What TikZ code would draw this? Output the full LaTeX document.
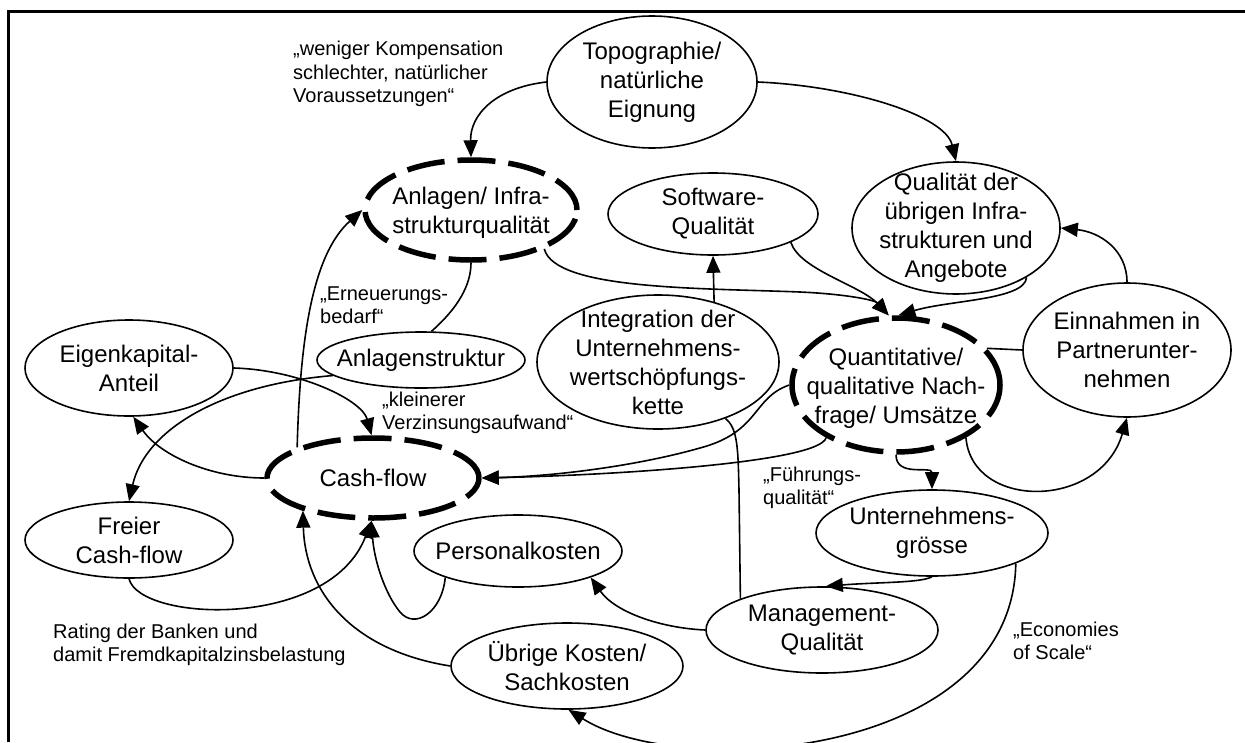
\documentclass[tikz,border=0pt]{standalone}
\usepackage{fontspec}
\setmainfont{Liberation Sans}
\usetikzlibrary{shapes.geometric,arrows.meta}
\begin{document}
\begin{tikzpicture}[x=1pt,y=-1pt,
  ell/.style={ellipse, draw, line width=1.6pt, inner sep=0pt},
  dell/.style={ellipse, draw, line width=5.5pt, inner sep=0pt, dash pattern=on 38pt off 13pt},
  ntext/.style={align=center, inner sep=0pt, font=\fontsize{24}{29}\selectfont},
  lbl/.style={align=left, inner sep=0pt, anchor=west, font=\fontsize{20}{23.5}\selectfont},
  conn/.style={line width=1.6pt},
  arr/.style={conn, -{Triangle[length=17pt,width=14pt]}},
]
\useasboundingbox (0,0) rectangle (1245,742);
\draw[line width=3pt] (8,742) -- (8,11) -- (1245,11);

% ellipses
\node[ell, minimum width=210pt, minimum height=132pt] (topo) at (652,82) {};
\node[dell, minimum width=212pt, minimum height=100pt] (anl) at (471,210) {};
\node[ell, minimum width=210pt, minimum height=82pt] (soft) at (713,214) {};
\node[ell, minimum width=208pt, minimum height=132pt] (qual) at (956,228) {};
\node[ell, minimum width=208pt, minimum height=134pt] (ein) at (1127,350) {};
\node[dell, minimum width=208pt, minimum height=134pt] (quant) at (896,385) {};
\node[ell, minimum width=242pt, minimum height=134pt] (integ) at (658,362) {};
\node[ell, minimum width=208pt, minimum height=56pt] (astr) at (421,360) {};
\node[ell, minimum width=208pt, minimum height=96pt] (eigen) at (129,368) {};
\node[dell, minimum width=212pt, minimum height=80pt] (cash) at (373,478) {};
\node[ell, minimum width=208pt, minimum height=76pt] (frei) at (129,540) {};
\node[ell, minimum width=208pt, minimum height=72pt] (pers) at (518,551) {};
\node[ell, minimum width=232pt, minimum height=86pt] (ugr) at (932,533) {};
\node[ell, minimum width=232pt, minimum height=86pt] (mgmt) at (822,630) {};
\node[ell, minimum width=232pt, minimum height=86pt] (uebr) at (567,666) {};

% texts
\node[ntext] (topo-t) at (topo) {Topographie/\\natürliche\\Eignung};
\node[ntext] (anl-t) at ([yshift=-3pt]anl.center) {Anlagen/ Infra-\\strukturqualität};
\node[ntext] (soft-t) at (soft) {Software-\\Qualität};
\node[ntext] (qual-t) at (qual) {Qualität der\\übrigen Infra-\\strukturen und\\Angebote};
\node[ntext] (ein-t) at (ein) {Einnahmen in\\Partnerunter-\\nehmen};
\node[ntext] (quant-t) at ([yshift=-3pt]quant.center) {Quantitative/\\qualitative Nach-\\frage/ Umsätze};
\node[ntext] (integ-t) at (integ) {Integration der\\Unternehmens-\\wertschöpfungs-\\kette};
\node[ntext] (astr-t) at (astr) {Anlagenstruktur};
\node[ntext] (eigen-t) at (eigen) {Eigenkapital-\\Anteil};
\node[ntext] (cash-t) at (cash) {Cash-flow};
\node[ntext] (frei-t) at (frei) {Freier\\Cash-flow};
\node[ntext] (pers-t) at (pers) {Personalkosten};
\node[ntext] (ugr-t) at (ugr) {Unternehmens-\\grösse};
\node[ntext] (mgmt-t) at (mgmt) {Management-\\Qualität};
\node[ntext] (uebr-t) at (uebr) {Übrige Kosten/\\Sachkosten};

% labels
\node[lbl] (l1) at (293,74) {„weniger Kompensation\\schlechter, natürlicher\\Voraussetzungen“};
\node[lbl] (l2) at (320,305) {„Erneuerungs-\\bedarf“};
\node[lbl] (l3) at (382,413) {„kleinerer\\Verzinsungsaufwand“};
\node[lbl] (l4) at (763,488) {„Führungs-\\qualität“};
\node[lbl] (l5) at (53,645) {Rating der Banken und\\damit Fremdkapitalzinsbelastung};
\node[lbl] (l6) at (1013,641) {„Economies\\of Scale“};

% connectors
\draw[arr] (topo.west) .. controls (495,88) and (470,115) .. (anl.north);
\draw[arr] (topo.east) .. controls (850,86) and (945,115) .. (qual.north);
\draw[arr] (cash.158) .. controls (300,340) and (312,255) .. (anl.west);
\draw[conn] (astr.70) .. controls (458,308) and (471,285) .. (anl.south);
\draw[arr] (anl.-28) .. controls (555,290) and (700,288) .. (800,292) .. controls (845,294) and (875,300) .. (quant.96);
\draw[arr] (soft.-20) .. controls (800,270) and (860,285) .. (quant.96);
\draw[arr] (qual.-35) .. controls (1025,300) and (950,300) .. (quant.88);
\draw[arr] (integ.47) -- (soft.south);
\draw[arr] (ein.north) .. controls (1127,250) and (1100,232) .. (qual.east);
\draw[conn] (quant.22) -- (ein.west);
\draw[arr] (quant.-37) .. controls (972,510) and (1100,510) .. (ein.south);
\draw[arr] (quant.south) .. controls (896,478) and (932,465) .. (ugr.north);
\draw[arr] (quant.-143) .. controls (820,462) and (620,475) .. (cash.east);
\draw[arr] (quant.west) .. controls (752,398) and (760,432) .. (700,448) .. controls (640,465) and (560,476) .. (cash.east);
\draw[arr] (ugr.south) .. controls (920,583) and (880,582) .. (mgmt.85);
\draw[arr] (ugr.-20) .. controls (1012,760) and (680,780) .. (uebr.-88);
\draw[arr] (mgmt.west) .. controls (660,628) and (615,612) .. (pers.-20);
\draw[arr] (pers.-160) .. controls (442,612) and (415,630) .. (400,612) .. controls (385,594) and (374,560) .. (cash.-92);
\draw[arr] (uebr.west) .. controls (350,650) and (305,590) .. (cash.-155);
\draw[arr] (frei.south) .. controls (140,622) and (330,630) .. (cash.-92);
\draw[arr] (cash.west) .. controls (210,478) and (160,455) .. (eigen.-85);
\draw[arr] (eigen.east) .. controls (300,370) and (362,400) .. (cash.92);
\draw[arr] (astr.-170) .. controls (220,385) and (145,430) .. (frei.north);
\draw[conn] (integ.-40) .. controls (738,428) and (738,450) .. (739,490) -- (mgmt.159);
\end{tikzpicture}
\end{document}
